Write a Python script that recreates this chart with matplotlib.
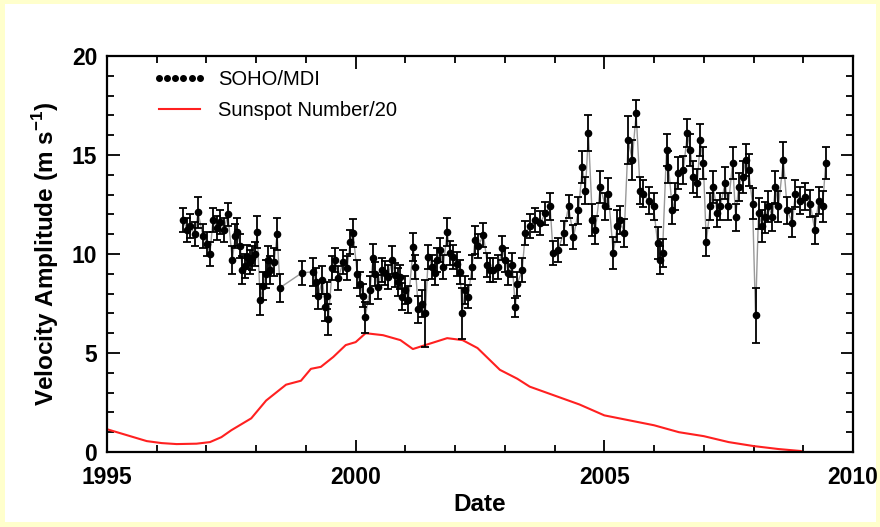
import matplotlib
matplotlib.use("Agg")
import matplotlib.pyplot as plt
from matplotlib.lines import Line2D
from matplotlib.patches import Rectangle
from matplotlib.ticker import MultipleLocator

plt.rcParams["font.family"] = ["Liberation Sans", "DejaVu Sans"]
plt.rcParams["mathtext.fontset"] = "custom"
plt.rcParams["mathtext.rm"] = "Liberation Sans"
plt.rcParams["mathtext.bf"] = "Liberation Sans:bold"

# SOHO/MDI velocity amplitude (m/s)
mdi_year = [
    1996.53, 1996.61, 1996.67, 1996.77, 1996.83, 1996.93, 1997.01, 1997.07,
    1997.13, 1997.21, 1997.27, 1997.35, 1997.43, 1997.52, 1997.58, 1997.62,
    1997.68, 1997.72, 1997.78, 1997.82, 1997.88, 1997.92, 1997.98, 1998.02,
    1998.08, 1998.14, 1998.20, 1998.24, 1998.28, 1998.36, 1998.42, 1998.48,
    1998.92, 1999.14, 1999.20, 1999.25, 1999.33, 1999.39, 1999.43, 1999.45,
    1999.53, 1999.59, 1999.65, 1999.75, 1999.83, 1999.89, 1999.95, 2000.03,
    2000.09, 2000.15, 2000.19, 2000.29, 2000.35, 2000.39, 2000.45, 2000.53,
    2000.59, 2000.65, 2000.73, 2000.79, 2000.86, 2000.90, 2000.94, 2001.00,
    2001.06, 2001.16, 2001.20, 2001.26, 2001.34, 2001.40, 2001.46, 2001.54,
    2001.60, 2001.64, 2001.70, 2001.76, 2001.84, 2001.90, 2001.96, 2002.04,
    2002.10, 2002.14, 2002.20, 2002.26, 2002.34, 2002.40, 2002.46, 2002.57,
    2002.65, 2002.71, 2002.77, 2002.87, 2002.95, 2003.01, 2003.07, 2003.15,
    2003.21, 2003.25, 2003.35, 2003.41, 2003.51, 2003.61, 2003.71, 2003.81,
    2003.91, 2003.97, 2004.07, 2004.18, 2004.28, 2004.38, 2004.48, 2004.56,
    2004.62, 2004.68, 2004.76, 2004.82, 2004.92, 2005.02, 2005.08, 2005.18,
    2005.26, 2005.32, 2005.40, 2005.48, 2005.56, 2005.64, 2005.72, 2005.78,
    2005.89, 2005.99, 2006.07, 2006.11, 2006.17, 2006.25, 2006.29, 2006.37,
    2006.43, 2006.49, 2006.59, 2006.67, 2006.73, 2006.79, 2006.87, 2006.93,
    2006.99, 2007.05, 2007.13, 2007.19, 2007.27, 2007.33, 2007.43, 2007.49,
    2007.58, 2007.64, 2007.70, 2007.78, 2007.84, 2007.90, 2007.98, 2008.04,
    2008.10, 2008.18, 2008.24, 2008.30, 2008.38, 2008.44, 2008.50, 2008.60,
    2008.68, 2008.78, 2008.84, 2008.94, 2009.04, 2009.14, 2009.23, 2009.31,
    2009.39, 2009.45,
]
mdi_vel = [
    11.7, 11.2, 11.4, 11.0, 12.1, 10.9, 10.5, 10.0,
    11.7, 11.3, 11.6, 11.2, 12.0, 9.7, 10.9, 11.1,
    10.4, 9.2, 9.4, 9.85, 9.6, 9.8, 10.0, 11.1,
    7.7, 8.4, 9.0, 9.7, 9.2, 9.6, 11.0, 8.3,
    9.05, 9.1, 8.6, 7.9, 8.7, 7.3, 7.9, 6.7,
    9.3, 9.7, 8.8, 9.6, 9.3, 10.6, 11.05, 9.0,
    8.5, 7.9, 6.8, 8.2, 9.8, 9.0, 8.35, 9.2,
    9.05, 8.85, 9.7, 8.95, 8.6, 8.85, 7.85, 8.2,
    7.7, 10.35, 9.35, 7.2, 7.5, 7.0, 9.85, 9.35,
    9.05, 9.7, 10.2, 9.35, 11.1, 10.05, 9.85, 9.5,
    9.1, 7.0, 8.2, 7.85, 9.35, 10.7, 10.4, 10.95,
    9.45, 9.2, 9.2, 9.35, 10.3, 9.7, 9.05, 9.45,
    7.3, 8.5, 9.2, 11.05, 11.4, 11.7, 11.55, 12.05,
    12.4, 10.05, 10.2, 11.05, 12.4, 10.85, 12.2, 14.4,
    13.2, 16.1, 11.7, 11.2, 13.4, 12.4, 13.05, 10.05,
    11.4, 11.7, 11.05, 15.75, 14.75, 17.1, 13.2, 13.05,
    12.7, 12.4, 10.55, 9.7, 10.05, 15.25, 14.4, 12.2,
    12.9, 14.1, 14.25, 16.1, 15.25, 13.9, 13.6, 15.75,
    14.6, 10.6, 12.4, 13.4, 12.05, 12.4, 13.6, 12.4,
    14.6, 11.85, 13.4, 13.9, 14.75, 14.25, 12.55, 6.9,
    12.05, 11.4, 11.85, 12.4, 11.85, 13.4, 12.4, 14.75,
    12.2, 11.55, 13.05, 12.7, 12.9, 12.55, 11.2, 12.7,
    12.4, 14.6,
]
mdi_err = [
    0.6, 0.6, 0.6, 0.6, 0.8, 0.6, 0.6, 0.6,
    0.6, 0.6, 0.6, 0.6, 0.6, 0.7, 0.6, 0.7,
    0.6, 0.7, 0.6, 0.6, 0.6, 0.6, 0.6, 0.8,
    0.8, 0.7, 0.7, 0.7, 0.7, 0.7, 0.8, 0.7,
    0.6, 0.7, 0.7, 0.7, 0.7, 0.7, 0.7, 0.8,
    0.6, 0.6, 0.6, 0.6, 0.6, 0.6, 0.7, 0.7,
    0.6, 0.6, 0.8, 0.7, 0.7, 0.6, 0.6, 0.6,
    0.6, 0.6, 0.7, 0.6, 0.7, 0.6, 0.7, 0.7,
    0.7, 0.7, 0.6, 0.7, 0.7, 1.7, 0.6, 0.6,
    0.6, 0.6, 0.6, 0.6, 0.7, 0.6, 0.6, 0.6,
    0.6, 1.3, 0.7, 0.6, 0.6, 0.7, 0.6, 0.6,
    0.6, 0.6, 0.6, 0.6, 0.6, 0.6, 0.6, 0.6,
    0.5, 0.6, 0.6, 0.6, 0.6, 0.6, 0.6, 0.6,
    0.7, 0.6, 0.6, 0.6, 0.6, 0.6, 0.7, 0.8,
    0.7, 0.9, 0.8, 0.7, 0.8, 0.7, 0.8, 0.8,
    0.8, 0.7, 0.7, 1.2, 1.0, 0.7, 0.7, 0.7,
    0.7, 0.7, 0.8, 0.7, 0.7, 0.8, 0.8, 0.7,
    0.7, 0.8, 0.7, 0.7, 0.8, 0.8, 0.7, 0.8,
    0.8, 0.7, 0.7, 0.8, 0.7, 0.7, 0.8, 0.7,
    0.8, 0.7, 0.7, 0.8, 0.8, 0.8, 0.8, 1.4,
    0.8, 0.8, 0.8, 0.8, 0.7, 0.8, 0.8, 0.9,
    0.7, 0.7, 0.7, 0.7, 0.7, 0.7, 0.7, 0.7,
    0.8, 0.8,
]

# smoothed sunspot number divided by 20
ssn_year = [
    1995.0, 1995.4, 1995.8, 1996.1, 1996.4, 1996.8, 1997.07, 1997.3,
    1997.5, 1997.7, 1997.9, 1998.2, 1998.4, 1998.6, 1998.9, 1999.1,
    1999.3, 1999.55, 1999.8, 2000.0, 2000.2, 2000.55, 2000.9, 2001.15,
    2001.4, 2001.84, 2002.15, 2002.45, 2002.9, 2003.25, 2003.5, 2004.0,
    2004.5, 2005.0, 2005.5, 2006.0, 2006.5, 2007.0, 2007.5, 2008.0,
    2008.5, 2008.95,
]
ssn_val = [
    1.15, 0.85, 0.55, 0.45, 0.4, 0.42, 0.5, 0.75,
    1.1, 1.4, 1.7, 2.6, 3.0, 3.4, 3.6, 4.2,
    4.3, 4.8, 5.4, 5.55, 6.0, 5.9, 5.65, 5.2,
    5.4, 5.75, 5.65, 5.25, 4.15, 3.7, 3.3, 2.85,
    2.4, 1.85, 1.6, 1.35, 1.0, 0.8, 0.5, 0.3,
    0.15, 0.05,
]

W, H = 880, 527
fig = plt.figure(figsize=(W / 100, H / 100), dpi=100)
fig.patch.set_facecolor("#ffffcc")
fig.patches.append(Rectangle((5 / W, 5 / H), 1 - 9 / W, 1 - 9 / H,
                             transform=fig.transFigure, facecolor="white",
                             edgecolor="none", zorder=-10))

ax = fig.add_axes([107 / W, 1 - 452 / H, 746 / W, 396 / H])
ax.set_zorder(5)
ax.set_facecolor("white")

ax.plot(ssn_year, ssn_val, color="#ff2020", lw=1.5, zorder=2)
ax.plot(mdi_year, mdi_vel, color="#999999", lw=1.0, zorder=3)
ax.errorbar(mdi_year, mdi_vel, yerr=mdi_err, fmt="o", color="black",
            ms=4.5, elinewidth=1.3, capsize=3, capthick=1.3, zorder=4)

ax.set_xlim(1995, 2010)
ax.set_ylim(0, 20)
ax.xaxis.set_major_locator(MultipleLocator(5))
ax.xaxis.set_minor_locator(MultipleLocator(1))
ax.yaxis.set_major_locator(MultipleLocator(5))
ax.yaxis.set_minor_locator(MultipleLocator(1))
ax.tick_params(which="both", direction="in", top=True, right=True, width=1.3)
ax.tick_params(which="major", length=9, labelsize=16.5)
ax.tick_params(axis="x", which="major", pad=10)
ax.tick_params(axis="y", which="major", pad=7)
ax.tick_params(which="minor", length=5)
for lab in ax.get_xticklabels() + ax.get_yticklabels():
    lab.set_fontweight("bold")
for sp in ax.spines.values():
    sp.set_linewidth(1.6)

ax.set_xlabel("Date", fontsize=17.5, fontweight="bold", labelpad=3)
ax.set_ylabel(r"Velocity Amplitude (m s$^{\mathbf{-1}}$)", fontsize=17.5,
              fontweight="bold", labelpad=8)

handles = [
    Line2D([], [], marker="o", ls="none", color="black", ms=4),
    Line2D([], [], color="#ff2020", lw=1.5),
]
ax.legend(handles, ["SOHO/MDI", "Sunspot Number/20"], loc="upper left",
          bbox_to_anchor=(0.062, 0.965), frameon=False, numpoints=6,
          fontsize=14.5, handlelength=2.6, handletextpad=0.6,
          labelspacing=0.6, borderaxespad=0, borderpad=0)

fig.savefig("out.png", dpi=100, facecolor=fig.get_facecolor())
